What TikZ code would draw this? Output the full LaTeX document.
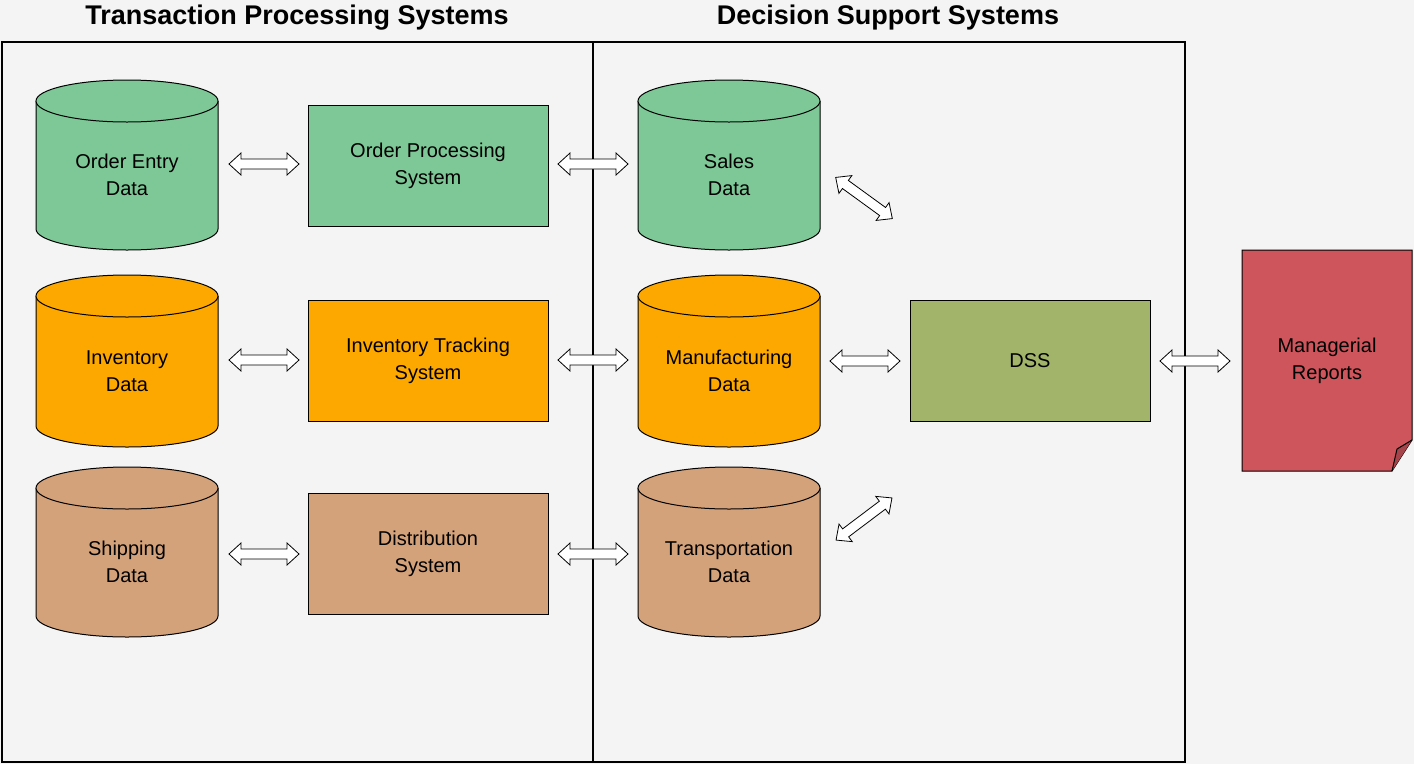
\documentclass[tikz,border=0pt]{standalone}
\usepackage{fontspec}
\setmainfont{Liberation Sans}
\begin{document}
\begin{tikzpicture}[x=1pt,y=-1pt,
  lbl/.style={align=center,font=\fontsize{20}{27}\selectfont},
  ttl/.style={font=\bfseries\fontsize{27}{30}\selectfont},
  box/.style={draw=black,line width=1pt,minimum width=240,minimum height=121,lbl},
  dbl/.pic={\draw[line width=0.8pt,fill=white,line join=miter]
     (-35,0)--(-23,-11)--(-23,-5)--(23,-5)--(23,-11)--(35,0)--(23,11)--(23,5)--(-23,5)--(-23,11)--cycle;}]
\definecolor{bg}{HTML}{F4F4F4}
\definecolor{cg}{HTML}{7DC896}
\definecolor{co}{HTML}{FDA800}
\definecolor{ct}{HTML}{D4A27A}
\definecolor{cd}{HTML}{A2B46A}
\definecolor{cr}{HTML}{CE555C}
\useasboundingbox (0,0) rectangle (1414,764);
\fill[bg] (0,0) rectangle (1414,764);
\draw[line width=2.2pt] (2,42) rectangle (593,762);
\draw[line width=2.2pt] (593,42) rectangle (1185,762);
\node[ttl] (t1) at (297,18) {Transaction Processing Systems};
\node[ttl] (t2) at (888,18) {Decision Support Systems};
% cylinders
\newcommand{\cyl}[5]{% name, cx, top, bottom, color, text via node after
  \fill[#5] (#2-91,#3+21) -- (#2-91,#4-21) arc[start angle=180,end angle=0,x radius=91,y radius=21] -- (#2+91,#3+21) -- cycle;
  \draw[line width=1pt] (#2-91,#3+21) -- (#2-91,#4-21) arc[start angle=180,end angle=0,x radius=91,y radius=21] -- (#2+91,#3+21);
  \draw[line width=1pt,fill=#5] (#2,#3+21) ellipse[x radius=91,y radius=21];
  \coordinate (#1) at (#2,{(#3+#4)/2+10});}
\cyl{c1}{127}{80}{250}{cg}
\cyl{c2}{127}{275}{447}{co}
\cyl{c3}{127}{467}{637}{ct}
\cyl{d1}{729}{80}{250}{cg}
\cyl{d2}{729}{275}{447}{co}
\cyl{d3}{729}{467}{637}{ct}
\node[lbl] (n1) at (c1) {Order Entry\\Data};
\node[lbl] (n2) at (c2) {Inventory\\Data};
\node[lbl] (n3) at (c3) {Shipping\\Data};
\node[lbl] (m1) at (d1) {Sales\\Data};
\node[lbl] (m2) at (d2) {Manufacturing\\Data};
\node[lbl] (m3) at (d3) {Transportation\\Data};
\node[box,fill=cg] (b1) at (428,166) {Order Processing\\System};
\node[box,fill=co] (b2) at (428,361) {Inventory Tracking\\System};
\node[box,fill=ct] (b3) at (428,554) {Distribution\\System};
\node[box,fill=cd] (dss) at (1030,361) {DSS};
% report
\fill[cr] (1242,250)--(1412,250)--(1412,440)--(1392,471)--(1242,471)--cycle;
\draw[line width=1pt] (1242,250)--(1412,250)--(1412,440)--(1392,471)--(1242,471)--cycle;
\draw[line width=1pt,fill=cr!80!black] (1392,471)--(1397,449)--(1412,440);
\node[lbl] (rep) at (1327,361) {Managerial\\Reports};
% arrows
\foreach \y in {164,360,554}{
  \pic at (264,\y) {dbl};
  \pic at (593,\y) {dbl};}
\pic at (865,361) {dbl};
\pic at (1195,361) {dbl};
\pic[rotate=-36] at (864,198) {dbl};
\pic[rotate=37] at (864,519) {dbl};
\end{tikzpicture}
\end{document}
